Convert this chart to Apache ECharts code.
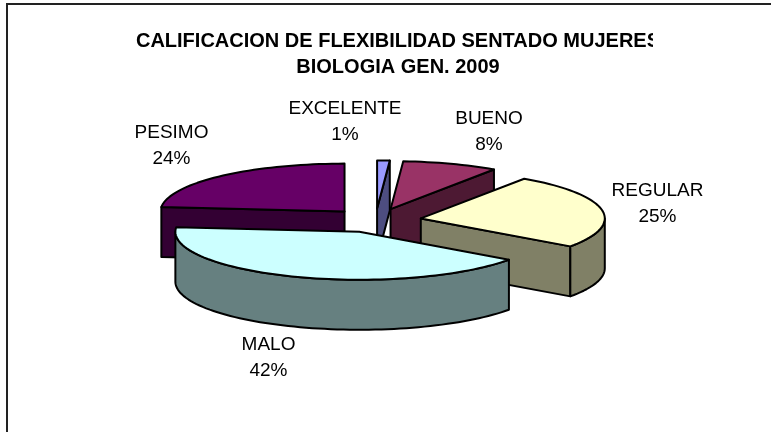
<!DOCTYPE html>
<html>
<head>
<meta charset="utf-8">
<style>
  html, body { margin: 0; padding: 0; background: #fff; }
  #main { width: 771px; height: 432px; }
</style>
</head>
<body>
<div id="main"></div>
<script src="https://cdn.jsdelivr.net/npm/echarts@6/dist/echarts.min.js"></script>
<script>
const titleLines = ['CALIFICACION DE FLEXIBILIDAD SENTADO MUJERES', 'BIOLOGIA GEN. 2009']
const categories = ['EXCELENTE', 'BUENO', 'REGULAR', 'MALO', 'PESIMO']
// estimated from the slice edges, the labels show them rounded
const values = [1.1, 8.4, 25.4, 41.6, 23.5]
const topColors = ['#9999ff', '#993366', '#ffffcc', '#ccffff', '#660066']
const sideColors = ['#4d4d80', '#4d1933', '#808066', '#668080', '#330033']
// label centres, placed by hand around the pie
const labelX = [345, 489, 657.5, 268.5, 171.5]
const labelY = [121.5, 131.5, 203.5, 357.5, 146]

// back slices first, the front ones cover them
const drawOrder = [4, 0, 1, 2, 3]

const cx = 375.5
const cy = 220.5
const rx = 184
const ry = 48
const depth = 50
const explode = 46

const total = values.reduce((a, b) => a + b, 0)

// angle measured clockwise from the top, in degrees
function sliceAngles(i) {
  let before = 0
  for (let k = 0; k < i; k++) before += values[k]
  return [before / total * 360, (before + values[i]) / total * 360]
}

function pt(c, deg, h) {
  const a = deg * Math.PI / 180
  return [c[0] + rx * Math.sin(a), c[1] - ry * Math.cos(a) + (h || 0)]
}

function arcPoints(c, from, to, h) {
  const pts = []
  const n = Math.max(2, Math.ceil(Math.abs(to - from) / 2))
  for (let k = 0; k <= n; k++) pts.push(pt(c, from + (to - from) * k / n, h))
  return pts
}

function poly(points, fill) {
  return {
    type: 'polygon',
    shape: { points: points },
    style: { fill: fill, stroke: '#000', lineWidth: 2, lineJoin: 'round' },
    silent: true,
  }
}

function renderSlice(params, api) {
  const i = api.value(0)
  const [a0, a1] = sliceAngles(i)
  const mid = (a0 + a1) / 2 * Math.PI / 180
  const c = [cx + explode * Math.sin(mid), cy - explode * (ry / rx) * Math.cos(mid)]
  const down = [c[0], c[1] + depth]
  const children = []

  // cut faces, only the ones turned towards the viewer
  if (a1 < 180) {
    children.push(poly([c, pt(c, a1), pt(c, a1, depth), down], sideColors[i]))
  }
  if (a0 > 180) {
    children.push(poly([c, pt(c, a0), pt(c, a0, depth), down], sideColors[i]))
  }

  // outer wall, front half of the ellipse only
  const w0 = Math.max(a0, 90)
  const w1 = Math.min(a1, 270)
  if (w1 > w0) {
    children.push(poly(arcPoints(c, w0, w1, 0).concat(arcPoints(c, w1, w0, depth)), sideColors[i]))
  }

  // top face
  children.push(poly([c].concat(arcPoints(c, a0, a1, 0)), topColors[i]))

  children.push({
    type: 'text',
    silent: true,
    style: {
      x: labelX[i],
      y: labelY[i],
      text: categories[i] + '\n' + Math.round(values[i]) + '%',
      align: 'center',
      verticalAlign: 'middle',
      font: '19px "Liberation Sans"',
      lineHeight: 26,
      fill: '#000',
    },
  })
  return { type: 'group', children: children }
}

const mychart = echarts.init(document.getElementById('main'))

const option = {
  animation: false,
  backgroundColor: '#fff',
  title: {
    text: titleLines.join('\n'),
    left: 398,
    top: 28,
    padding: 0,
    textAlign: 'center',
    textStyle: {
      fontFamily: 'Liberation Sans',
      fontSize: 20,
      fontWeight: 'bold',
      color: '#000',
      lineHeight: 26,
    },
  },
  graphic: [
    // chart frame, right and bottom edges fall outside the window
    { type: 'rect', z: 50, shape: { x: 7, y: 4, width: 900, height: 600 }, style: { fill: 'none', stroke: '#222', lineWidth: 2 }, silent: true },
    // the last letter of the title is cut off in the original
    { type: 'rect', z: 50, shape: { x: 653, y: 26, width: 20, height: 26 }, style: { fill: '#fff' }, silent: true },
  ],
  series: [
    {
      type: 'custom',
      coordinateSystem: 'none',
      renderItem: renderSlice,
      data: drawOrder.map((i) => [i, values[i]]),
    },
  ],
}

mychart.setOption(option)
</script>
</body>
</html>
